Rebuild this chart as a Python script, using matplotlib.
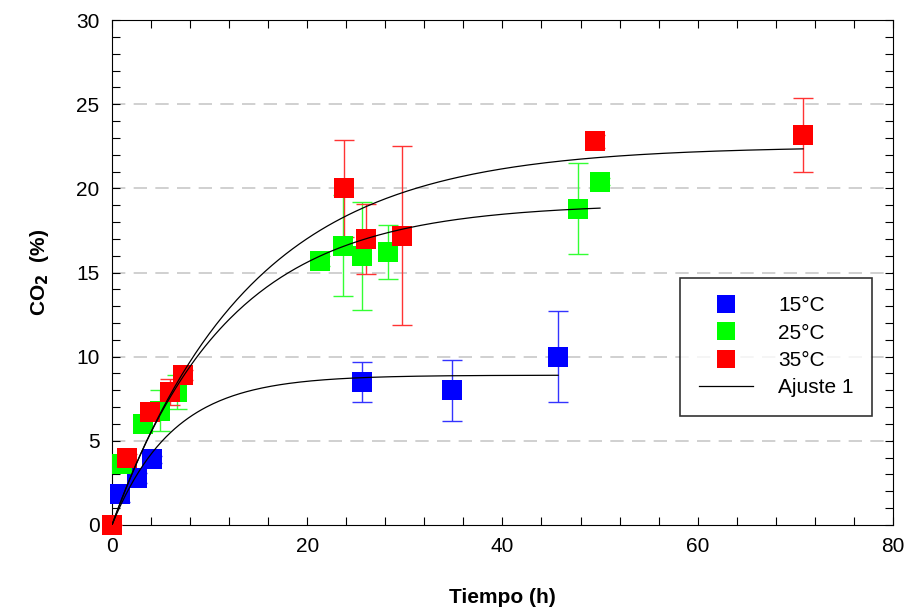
import numpy as np
import matplotlib
matplotlib.use('Agg')
import matplotlib.pyplot as plt
from matplotlib.ticker import MultipleLocator

plt.rcParams['font.family'] = ['Liberation Sans', 'DejaVu Sans']

# 15 C
t15 = [0.8, 2.6, 4.1, 25.6, 34.8, 45.7]
co2_15 = [1.85, 2.8, 3.9, 8.5, 8.0, 10.0]
err15 = [0.5, 0.3, 0.2, 1.2, 1.8, 2.7]

# 25 C
t25 = [1.0, 3.2, 4.9, 6.7, 21.3, 23.7, 25.6, 28.3, 47.7, 50.0]
co2_25 = [3.6, 6.0, 6.8, 7.9, 15.7, 16.6, 16.0, 16.2, 18.8, 20.4]
err25 = [0.3, 0.4, 1.2, 1.0, 0.3, 3.0, 3.2, 1.6, 2.7, 0.2]

# 35 C
t35 = [0.0, 1.5, 3.9, 5.9, 7.3, 23.8, 26.0, 29.7, 49.5, 70.8]
co2_35 = [0.0, 4.0, 6.7, 7.9, 8.9, 20.0, 17.0, 17.2, 22.8, 23.2]
err35 = [0.0, 0.2, 0.3, 0.8, 0.3, 2.9, 2.1, 5.3, 0.4, 2.2]

# Ajuste 1: y = A*(1-exp(-k*t)), parametros
fit_A = [8.9, 19.1, 22.5]
fit_k = [0.16, 0.085, 0.0706]
fit_tmax = [45.7, 50.0, 70.8]

series = [(t15, co2_15, err15, '#0000ff', '#3333ff', '15°C'),
          (t25, co2_25, err25, '#00ff00', '#33ff33', '25°C'),
          (t35, co2_35, err35, '#ff0000', '#ff3333', '35°C')]

fig = plt.figure(figsize=(9.12, 6.09), dpi=100)
ax = fig.add_axes([0.1228, 0.138, 0.8562, 0.829])

for t, y, e, c, ec, lab in series:
    ax.errorbar(t, y, yerr=e, fmt='none', ecolor=ec, elinewidth=1.0,
                capsize=7, capthick=1.0, zorder=3)
    ax.plot(t, y, 's', color=c, markersize=14, markeredgewidth=0,
            label=lab, zorder=4, clip_on=False)

for i in range(3):
    tt = np.linspace(0, fit_tmax[i], 200)
    ax.plot(tt, fit_A[i] * (1 - np.exp(-fit_k[i] * tt)), color='black',
            lw=0.9, zorder=5, label='Ajuste 1' if i == 0 else None)

ax.set_xlim(0, 80)
ax.set_ylim(0, 30)
ax.xaxis.set_major_locator(MultipleLocator(20))
ax.xaxis.set_minor_locator(MultipleLocator(4))
ax.yaxis.set_major_locator(MultipleLocator(5))
ax.yaxis.set_minor_locator(MultipleLocator(1))
ax.tick_params(which='both', direction='in', top=True, right=True,
               length=6, width=0.8, labelsize=15, pad=9)

for yv in [5, 10, 15, 20, 25]:
    ax.axhline(yv, color='#c8c8c8', lw=1.2, ls=(0, (8, 5)), zorder=1)

ax.set_xlabel('Tiempo (h)', fontsize=15, fontweight='bold', labelpad=23)
ax.set_ylabel('CO$_\\mathbf{2}$  (%)', fontsize=15, fontweight='bold', labelpad=18)

leg = ax.legend(loc='lower right', bbox_to_anchor=(0.987, 0.195), fontsize=15,
                frameon=True, fancybox=False, edgecolor='black',
                borderpad=0.9, labelspacing=0.4, handlelength=2.6,
                handletextpad=1.2, markerscale=0.95)
leg.get_frame().set_linewidth(1.2)

fig.savefig('out.png', dpi=100)
